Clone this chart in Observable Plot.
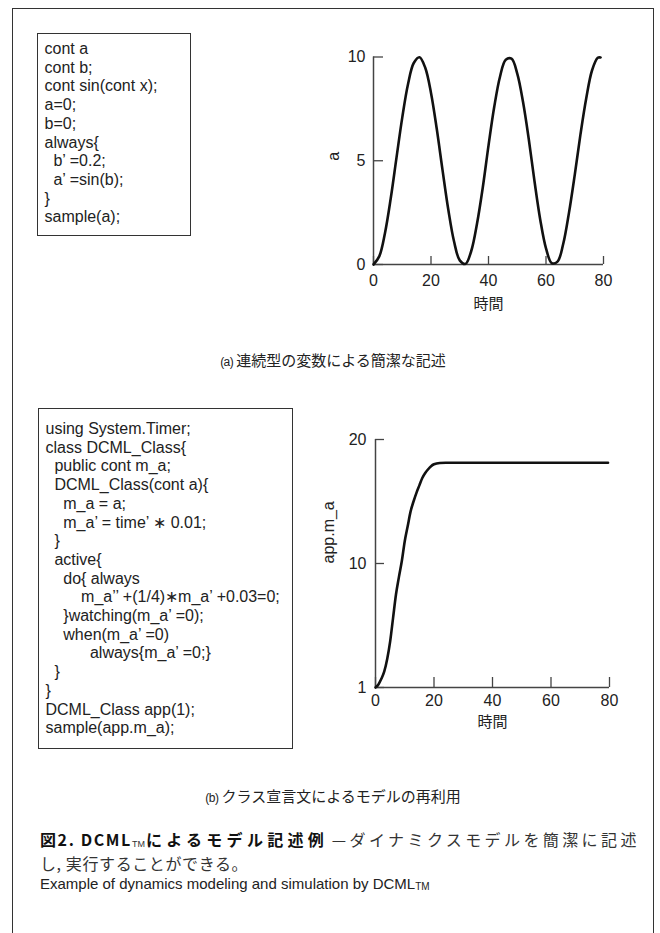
<!DOCTYPE html>
<html><head><meta charset="utf-8">
<script src="https://cdn.jsdelivr.net/npm/d3@7"></script>
<script src="https://cdn.jsdelivr.net/npm/@observablehq/plot@0.6"></script>
<style>
html,body{margin:0;padding:0;background:#fff;}
body{width:660px;height:933px;overflow:hidden;position:relative;font-family:"Liberation Sans",Arial,sans-serif;color:#222;}
#frame{position:absolute;left:12px;top:8px;width:642px;height:1000px;border:1.4px solid #333;box-sizing:border-box;}
.code{position:absolute;box-sizing:border-box;border:1.6px solid #333;font:16px/18.7px "Liberation Sans",Arial,sans-serif;white-space:pre;color:#222;}
#code1{left:37px;top:33px;width:154px;height:203px;padding:6px 0 0 6.5px;}
#code2{left:38px;top:408px;width:255px;height:341px;padding:11px 0 0 6.5px;}
.plot{position:absolute;}
#plotA{left:320px;top:40px;}
#plotB{left:320px;top:420px;}
.cap{position:absolute;left:12px;width:642px;text-align:center;font:15px/20px "Noto Sans CJK JP",sans-serif;color:#222;}
.cap .p{font-family:"Liberation Sans",sans-serif;font-size:12px;letter-spacing:-0.5px;margin-right:3px;}
.ln{position:absolute;left:40px;white-space:nowrap;}
.ln span{display:inline-block;vertical-align:top;line-height:18px;height:18px;overflow:visible;}
#title1{top:830px;font:16px "Noto Sans CJK JP",sans-serif;color:#333;}
#title1 .b1{font-weight:bold;color:#111;letter-spacing:1.6px;}
#title1 .b2{font-weight:bold;color:#111;letter-spacing:4.3px;}
#title1 .dash{letter-spacing:0;}
#title1 .r{letter-spacing:3.4px;}
.ln .tm{font-family:"Liberation Sans",sans-serif;font-size:9px;font-weight:normal;margin-right:1px;position:relative;top:4.5px;}
#title2{top:854px;font:16px "Noto Sans CJK JP",sans-serif;color:#333;letter-spacing:0.6px;}
#eng{top:875px;font:15px "Liberation Sans",Arial,sans-serif;color:#222;}
#eng .tm{font-size:10px;top:2.5px;}
</style>
</head><body>
<div id="frame"></div>
<div id="code1" class="code"></div>
<div id="code2" class="code"></div>
<div id="plotA" class="plot"></div>
<div id="plotB" class="plot"></div>
<div id="capA" class="cap" style="top:350px"></div>
<div id="capB" class="cap" style="top:786px"></div>
<div id="title1" class="ln"></div>
<div id="title2" class="ln"></div>
<div id="eng" class="ln"></div>
<script>
// ---- content ----
const codeA = [
  "cont a",
  "cont b;",
  "cont sin(cont x);",
  "a=0;",
  "b=0;",
  "always{",
  "  b\u2019 =0.2;",
  "  a\u2019 =sin(b);",
  "}",
  "sample(a);"
];
const codeB = [
  "using System.Timer;",
  "class DCML_Class{",
  "  public cont m_a;",
  "  DCML_Class(cont a){",
  "    m_a = a;",
  "    m_a\u2019 = time\u2019 \u2217 0.01;",
  "  }",
  "  active{",
  "    do{ always",
  "        m_a\u2019\u2019 +(1/4)\u2217m_a\u2019 +0.03=0;",
  "    }watching(m_a\u2019 =0);",
  "    when(m_a\u2019 =0)",
  "          always{m_a\u2019 =0;}",
  "  }",
  "}",
  "DCML_Class app(1);",
  "sample(app.m_a);"
];
const captionA = ["(a)", "連続型の変数による簡潔な記述"];
const captionB = ["(b)", "クラス宣言文によるモデルの再利用"];
const titleBold = ["図2.\u00a0DCML", "TM", "によるモデル記述例"];
const titleDash = "\u00a0—\u00a0";
const titleRest = "ダイナミクスモデルを簡潔に記述";
const titleLine2 = "し, 実行することができる。";
const englishTitle = ["Example of dynamics modeling and simulation by DCML", "TM"];

// chart (a)
const timeA = [0,2,4,6,8,10,12,14,16,18,20,22,24,26,28,30,32,34,36,38,40,42,44,46,48,50,52,54,56,58,60,62,64,66,68,70,72,74,76,78,79];
const valueA = [0,0.39,1.52,3.19,5.15,7.08,8.69,9.71,9.99,9.48,8.27,6.54,4.56,2.66,1.12,0.20,0.03,0.65,1.96,3.70,5.73,7.60,9.05,9.87,9.92,9.20,7.84,6.05,4.01,2.16,0.78,0.07,0.14,1.00,2.50,4.32,6.28,8.01,9.35,9.96,9.98];
const xTicks = [0,20,40,60,80];
const yTicksA = [0,5,10];
const yLabelA = "a";
const xLabel = "時間";

// chart (b)
const timeB = [0,1,2,3,4,5,6,7,8,9,10,11,12,13,14,15,16,17,18,19,20,22,24,27,30,40,50,60,70,79.5];
const valueB = [0,0.25,0.7,1.3,2.3,3.7,5.6,7.5,8.9,10.2,11.8,13.0,14.2,15.0,15.7,16.3,16.9,17.3,17.6,17.85,18.0,18.1,18.12,18.12,18.12,18.12,18.12,18.12,18.12,18.12];
const yTicksB = [0,10,20];
const yTickLabelsB = ["1","10","20"];
const yLabelB = "app.m_a";

// ---- build text ----
document.getElementById("code1").textContent = codeA.join("\n");
document.getElementById("code2").textContent = codeB.join("\n");
function span(parent, cls, text){
  const s = document.createElement("span");
  if (cls) s.className = cls;
  s.textContent = text;
  parent.appendChild(s);
  return s;
}
function cap(id, parts){
  const el = document.getElementById(id);
  span(el, "p", parts[0]);
  el.appendChild(document.createTextNode(parts[1]));
}
cap("capA", captionA); cap("capB", captionB);
const t1 = document.getElementById("title1");
span(t1, "b1", titleBold[0]);
span(t1, "tm", titleBold[1]);
span(t1, "b2", titleBold[2]);
span(t1, "dash", titleDash);
span(t1, "r", titleRest);
span(document.getElementById("title2"), "", titleLine2);
const eng = document.getElementById("eng");
span(eng, "", englishTitle[0]);
span(eng, "tm", englishTitle[1]);

// ---- charts ----
const dataA = timeA.map((t,i)=>({t, v: valueA[i]}));
const dataB = timeB.map((t,i)=>({t, v: valueB[i]}));
const axisStyle = {stroke:"#444", fill:"#222", strokeWidth:1.3, fontSize:16, label:null};

const plotA = Plot.plot({
  width: 320, height: 290,
  marginLeft: 53, marginRight: 37, marginTop: 16.5, marginBottom: 66,
  style: {fontFamily:"Liberation Sans, Arial, sans-serif", fontSize:"16px", background:"transparent", overflow:"visible", color:"#222"},
  x: {domain:[0,80]},
  y: {domain:[0,10]},
  marks: [
    Plot.axisX({...axisStyle, ticks: xTicks, tickSize: -8, tickPadding: 18}),
    Plot.axisY({...axisStyle, ticks: yTicksA, tickSize: -10, tickPadding: 18}),
    Plot.ruleX([0], {stroke:"#444", strokeWidth:1.5}),
    Plot.ruleY([0], {stroke:"#444", strokeWidth:1.5}),
    Plot.line(dataA, {x:"t", y:"v", curve:"catmull-rom", stroke:"#111", strokeWidth:2.6}),
    Plot.text([yLabelA], {frameAnchor:"left", rotate:-90, dx:-40, fontSize:16, fill:"#222"}),
    Plot.text([xLabel], {frameAnchor:"bottom", dy:44, fontSize:15, fontFamily:"Noto Sans CJK JP", fill:"#222"})
  ]
});
document.getElementById("plotA").appendChild(plotA);

const plotB = Plot.plot({
  width: 320, height: 330,
  marginLeft: 55, marginRight: 31, marginTop: 19, marginBottom: 63,
  style: {fontFamily:"Liberation Sans, Arial, sans-serif", fontSize:"16px", background:"transparent", overflow:"visible", color:"#222"},
  x: {domain:[0,80]},
  y: {domain:[0,20]},
  marks: [
    Plot.axisX({...axisStyle, ticks: xTicks, tickSize: -10, tickPadding: 17}),
    Plot.axisY({...axisStyle, ticks: yTicksB, tickSize: -9, tickPadding: 18, tickFormat: d => yTickLabelsB[yTicksB.indexOf(d)]}),
    Plot.ruleX([0], {stroke:"#444", strokeWidth:1.5}),
    Plot.ruleY([0], {stroke:"#444", strokeWidth:1.5}),
    Plot.line(dataB, {x:"t", y:"v", curve:"monotone-x", stroke:"#111", strokeWidth:2.6}),
    Plot.text([yLabelB], {frameAnchor:"left", rotate:-90, dx:-47, fontSize:16, fill:"#222"}),
    Plot.text([xLabel], {frameAnchor:"bottom", dy:39, fontSize:15, fontFamily:"Noto Sans CJK JP", fill:"#222"})
  ]
});
document.getElementById("plotB").appendChild(plotB);
</script>
</body></html>
